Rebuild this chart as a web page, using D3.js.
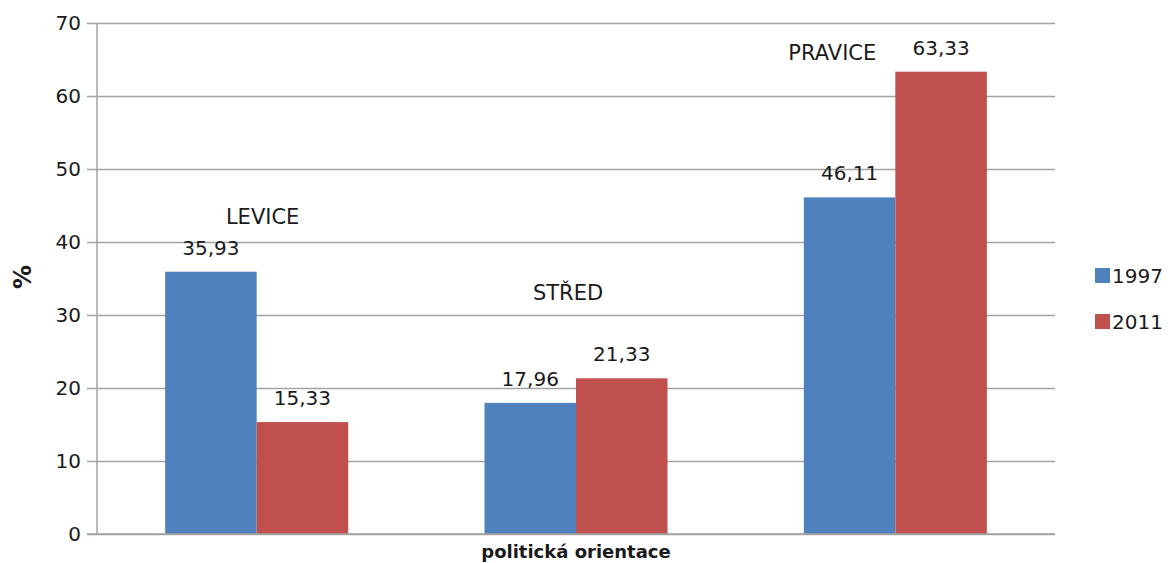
<!DOCTYPE html>
<html>
<head>
<meta charset="utf-8">
<script src="https://cdn.jsdelivr.net/npm/d3@7"></script>
<style>
  html, body { margin: 0; padding: 0; background: #fff; overflow: hidden; }
  svg { display: block; font-family: "DejaVu Sans", Verdana, sans-serif; }
</style>
</head>
<body>
<svg id="chart" width="1168" height="563"></svg>
<script>
// Political orientation shares, 1997 vs 2011 (%)
const categories = ["LEVICE", "STŘED", "PRAVICE"];
const years = ["1997", "2011"];
const values1997 = [35.93, 17.96, 46.11];
const values2011 = [15.33, 21.33, 63.33];
const yTicks = [0, 10, 20, 30, 40, 50, 60, 70];
const colors = ["#4F81BD", "#C0504D"];

const W = 1168, H = 563;
const plot = { left: 97, right: 1055, top: 23, bottom: 534 };

const svg = d3.select("#chart");

const x = d3.scaleBand()
  .domain(categories)
  .range([plot.left, plot.right])
  .paddingInner(0)
  .paddingOuter(0);

const y = d3.scaleLinear().domain([0, 70]).range([plot.bottom, plot.top]);

// bars take 2 of the 3.5 bar-widths in each category slot
const groupW = x.bandwidth() * (2 / 3.49);
const xs = d3.scaleBand().domain(years).range([0, groupW]).padding(0);

// gridlines with outward tick stubs
const yAxis = d3.axisLeft(y).tickValues(yTicks)
  .tickSize(-(plot.right - plot.left))
  .tickPadding(16)
  .tickFormat(d3.format("d"));

const gy = svg.append("g")
  .attr("transform", `translate(${plot.left},0)`)
  .call(yAxis);
gy.select(".domain").remove();
gy.selectAll(".tick line")
  .attr("x1", -10)
  .attr("stroke", "#a3a3a3")
  .attr("stroke-width", 1.5);
gy.selectAll(".tick text")
  .attr("font-size", 20)
  .attr("fill", "#1a1a1a")
  .attr("font-family", "DejaVu Sans, Verdana, sans-serif");

// vertical axis line
svg.append("line")
  .attr("x1", plot.left).attr("x2", plot.left)
  .attr("y1", y(70)).attr("y2", y(0))
  .attr("stroke", "#a3a3a3").attr("stroke-width", 1.5);

// bars
const rows = categories.map((c, i) => ({
  cat: c,
  vals: [ { year: years[0], v: values1997[i] }, { year: years[1], v: values2011[i] } ]
}));

const groups = svg.append("g").selectAll("g")
  .data(rows).join("g")
  .attr("transform", d => `translate(${x(d.cat) + (x.bandwidth() - groupW) / 2},0)`);

groups.selectAll("rect")
  .data(d => d.vals).join("rect")
  .attr("x", d => xs(d.year))
  .attr("width", xs.bandwidth())
  .attr("y", d => y(d.v))
  .attr("height", d => y(0) - y(d.v))
  .attr("fill", (d, i) => colors[i]);

// value labels
const fmt = v => v.toFixed(2).replace(".", ",");
groups.selectAll("text.val")
  .data(d => d.vals).join("text")
  .attr("class", "val")
  .attr("x", d => xs(d.year) + xs.bandwidth() / 2)
  .attr("y", d => y(d.v) - 17)
  .attr("text-anchor", "middle")
  .attr("font-size", 20)
  .attr("fill", "#1a1a1a")
  .text(d => fmt(d.v));

// redraw bottom axis line over bar bases
svg.append("line")
  .attr("x1", plot.left - 10).attr("x2", plot.right)
  .attr("y1", y(0)).attr("y2", y(0))
  .attr("stroke", "#a3a3a3").attr("stroke-width", 1.5);

// category captions floating above each group
const captionY = [42.5, 32.1, 64.95];
const captionDx = [6, -8, -63];
svg.append("g").selectAll("text")
  .data(categories).join("text")
  .attr("x", (d, i) => x(d) + x.bandwidth() / 2 + captionDx[i])
  .attr("y", (d, i) => y(captionY[i]))
  .attr("text-anchor", "middle")
  .attr("font-size", 21)
  .attr("fill", "#1a1a1a")
  .text(d => d);

// axis titles
svg.append("text")
  .attr("transform", `translate(31,${277}) rotate(-90)`)
  .attr("text-anchor", "middle")
  .attr("font-size", 24)
  .attr("font-weight", "bold")
  .attr("fill", "#1a1a1a")
  .text("%");

svg.append("text")
  .attr("x", (plot.left + plot.right) / 2)
  .attr("y", 558)
  .attr("text-anchor", "middle")
  .attr("font-size", 18)
  .attr("font-weight", "bold")
  .attr("fill", "#1a1a1a")
  .text("politická orientace");

// legend
const legend = svg.append("g").selectAll("g")
  .data(years).join("g")
  .attr("transform", (d, i) => `translate(1095,${268 + i * 46})`);
legend.append("rect")
  .attr("width", 15).attr("height", 15)
  .attr("fill", (d, i) => colors[i]);
legend.append("text")
  .attr("x", 17).attr("y", 15)
  .attr("font-size", 20)
  .attr("fill", "#1a1a1a")
  .text(d => d);
</script>
</body>
</html>
